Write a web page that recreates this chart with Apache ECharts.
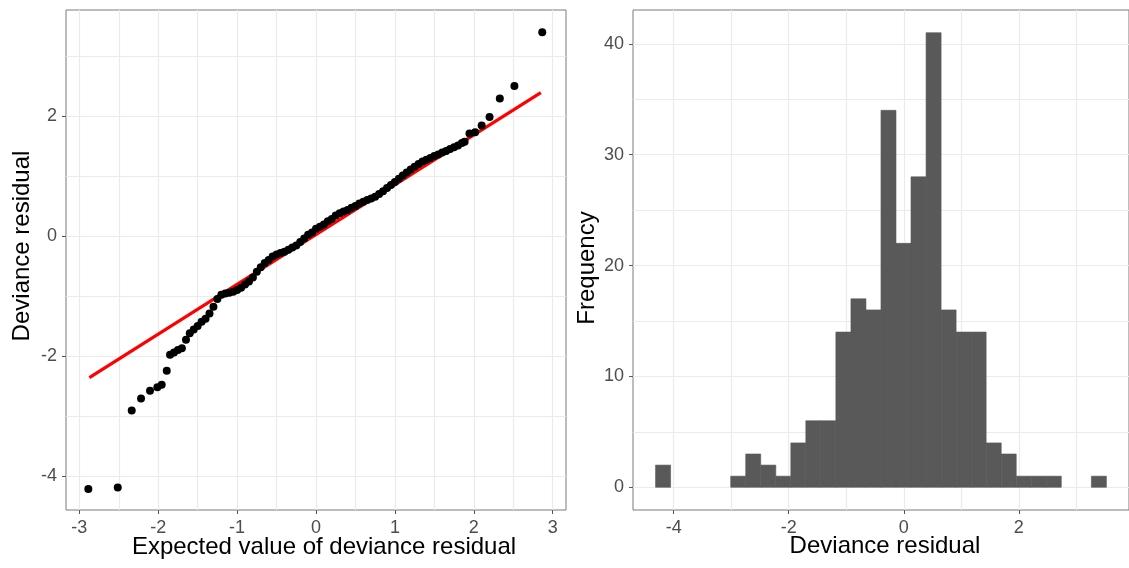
<!DOCTYPE html>
<html>
<head>
<meta charset="utf-8">
<script src="https://cdn.jsdelivr.net/npm/echarts@6/dist/echarts.min.js"></script>
<style>
  html, body { margin: 0; padding: 0; background: #fff; }
  #chart { width: 1129px; height: 568px; }
</style>
</head>
<body>
<div id="chart"></div>
<script>
// QQ plot: [expected value, deviance residual]
const qqPoints = [
  [-2.886, -4.217], [-2.513, -4.19], [-2.336, -2.91], [-2.218, -2.71], [-2.104, -2.58],
  [-2.011, -2.52], [-1.956, -2.48], [-1.892, -2.245], [-1.85, -1.98], [-1.80, -1.94],
  [-1.75, -1.90], [-1.70, -1.87], [-1.648, -1.73], [-1.60, -1.62], [-1.55, -1.56],
  [-1.50, -1.50], [-1.45, -1.43], [-1.40, -1.38], [-1.35, -1.29], [-1.30, -1.18],
  [-1.25, -1.05], [-1.20, -0.98], [-1.15, -0.96], [-1.10, -0.945], [-1.05, -0.928],
  [-1.00, -0.90], [-0.95, -0.862], [-0.90, -0.81], [-0.85, -0.76], [-0.80, -0.69],
  [-0.75, -0.595], [-0.70, -0.52], [-0.65, -0.45], [-0.60, -0.40], [-0.55, -0.34],
  [-0.50, -0.31], [-0.45, -0.285], [-0.40, -0.262], [-0.35, -0.23], [-0.30, -0.19],
  [-0.25, -0.16], [-0.20, -0.10], [-0.15, -0.04], [-0.10, 0.02], [-0.05, 0.06],
  [0.00, 0.12], [0.05, 0.155], [0.10, 0.19], [0.15, 0.245], [0.20, 0.285],
  [0.25, 0.34], [0.30, 0.38], [0.35, 0.41], [0.40, 0.435], [0.45, 0.47],
  [0.50, 0.50], [0.55, 0.54], [0.60, 0.572], [0.65, 0.60], [0.70, 0.625],
  [0.75, 0.655], [0.80, 0.70], [0.85, 0.745], [0.90, 0.80], [0.95, 0.85],
  [1.00, 0.90], [1.05, 0.955], [1.10, 1.01], [1.15, 1.06], [1.20, 1.11],
  [1.25, 1.155], [1.30, 1.20], [1.35, 1.24], [1.40, 1.27], [1.45, 1.30],
  [1.50, 1.335], [1.55, 1.36], [1.60, 1.39], [1.65, 1.415], [1.70, 1.45],
  [1.75, 1.48], [1.80, 1.51], [1.85, 1.55], [1.884, 1.57], [1.946, 1.71],
  [2.017, 1.73], [2.10, 1.84], [2.20, 1.985], [2.33, 2.29], [2.515, 2.50],
  [2.868, 3.395]
];
// reference line end points
const refLine = [[-2.873, -2.36], [2.85, 2.39]];

// histogram: 30 bins
const binEdges = [
  -4.315, -4.054, -3.793, -3.531, -3.270, -3.009, -2.748, -2.487, -2.225, -1.964,
  -1.703, -1.442, -1.181, -0.919, -0.658, -0.397, -0.136, 0.125, 0.387, 0.648,
  0.909, 1.170, 1.431, 1.693, 1.954, 2.215, 2.476, 2.737, 2.999, 3.260, 3.521
];
const binCounts = [
  2, 0, 0, 0, 0, 1, 3, 2, 1, 4,
  6, 6, 14, 17, 16, 34, 22, 28, 41, 16,
  14, 14, 4, 3, 1, 1, 1, 0, 0, 1
];

// tick / grid values
const qqXLabels = [-3, -2, -1, 0, 1, 2, 3];
const qqXGrid = [-3, -2.5, -2, -1.5, -1, -0.5, 0, 0.5, 1, 1.5, 2, 2.5, 3];
const qqYLabels = [-4, -2, 0, 2];
const qqYGrid = [-4, -3, -2, -1, 0, 1, 2, 3];
const histXLabels = [-4, -2, 0, 2];
const histXGrid = [-4, -3, -2, -1, 0, 1, 2, 3];
const histYLabels = [0, 10, 20, 30, 40];
const histYGrid = [0, 5, 10, 15, 20, 25, 30, 35, 40];

const FONT = "'Liberation Sans', Arial, sans-serif";
const gridLine = { show: true, lineStyle: { color: "#ebebeb", width: 1.2 } };
const labelStyle = { color: "#4d4d4d", fontSize: 18, fontFamily: FONT };

// data axis: grid lines at all values, labels at the major ones
function dataAxis(gridIndex, position, min, max, gridVals, labelVals) {
  return {
    type: "value",
    gridIndex,
    position,
    min,
    max,
    axisLine: { show: false, onZero: false },
    axisTick: { show: false, customValues: gridVals },
    splitLine: gridLine,
    axisLabel: { ...labelStyle, margin: 9, customValues: labelVals },
  };
}

// second axis that only draws the small tick marks
function tickAxis(gridIndex, position, min, max, labelVals) {
  return {
    type: "value",
    gridIndex,
    position,
    offset: 0,
    min,
    max,
    axisLine: { show: false, onZero: false },
    axisTick: { show: true, length: 4, customValues: labelVals, lineStyle: { color: "#555", width: 1 } },
    splitLine: { show: false },
    axisLabel: { show: false },
  };
}

function title(text, x, y, vertical) {
  return {
    type: "text",
    x,
    y,
    rotation: vertical ? Math.PI / 2 : 0,
    style: {
      text,
      font: `24px ${FONT}`,
      fill: "#000",
      textAlign: "center",
      textVerticalAlign: "middle",
    },
  };
}

const chart = echarts.init(document.getElementById("chart"));

chart.setOption({
  backgroundColor: "#fff",
  animation: false,
  grid: [
    { left: 66, top: 10, width: 500, height: 500, show: true, borderColor: "#7a7a7a", borderWidth: 1, backgroundColor: "transparent" },
    { left: 633, top: 10, width: 499, height: 500, show: true, borderColor: "#7a7a7a", borderWidth: 1, backgroundColor: "transparent" },
  ],
  xAxis: [
    dataAxis(0, "bottom", -3.169, 3.169, qqXGrid, qqXLabels),
    tickAxis(0, "bottom", -3.169, 3.169, qqXLabels),
    dataAxis(1, "bottom", -4.707, 3.914, histXGrid, histXLabels),
    tickAxis(1, "bottom", -4.707, 3.914, histXLabels),
  ],
  yAxis: [
    dataAxis(0, "left", -4.567, 3.767, qqYGrid, qqYLabels),
    tickAxis(0, "left", -4.567, 3.767, qqYLabels),
    dataAxis(1, "left", -2.05, 43.05, histYGrid, histYLabels),
    tickAxis(1, "left", -2.05, 43.05, histYLabels),
  ],
  series: [
    {
      type: "line",
      xAxisIndex: 0,
      yAxisIndex: 0,
      data: refLine,
      symbol: "none",
      lineStyle: { color: "#ff0000", width: 3.2 },
      z: 2,
    },
    {
      type: "scatter",
      xAxisIndex: 0,
      yAxisIndex: 0,
      data: qqPoints,
      symbolSize: 8,
      itemStyle: { color: "#000", opacity: 1 },
      z: 3,
    },
    {
      type: "custom",
      xAxisIndex: 2,
      yAxisIndex: 2,
      data: binCounts.map((count, i) => [binEdges[i], binEdges[i + 1], count]),
      renderItem: (params, api) => {
        if (!api.value(2)) return null;
        const p0 = api.coord([api.value(0), 0]);
        const p1 = api.coord([api.value(1), api.value(2)]);
        return {
          type: "rect",
          shape: { x: p0[0], y: p1[1], width: p1[0] - p0[0], height: p0[1] - p1[1] },
          style: { fill: "#595959", stroke: "#595959", lineWidth: 0.6 },
        };
      },
      z: 2,
    },
  ],
  graphic: [
    title("Deviance residual", 22, 246, true),
    title("Expected value of deviance residual", 324, 547, false),
    title("Frequency", 587, 268, true),
    title("Deviance residual", 885, 546, false),
  ],
});
</script>
</body>
</html>
